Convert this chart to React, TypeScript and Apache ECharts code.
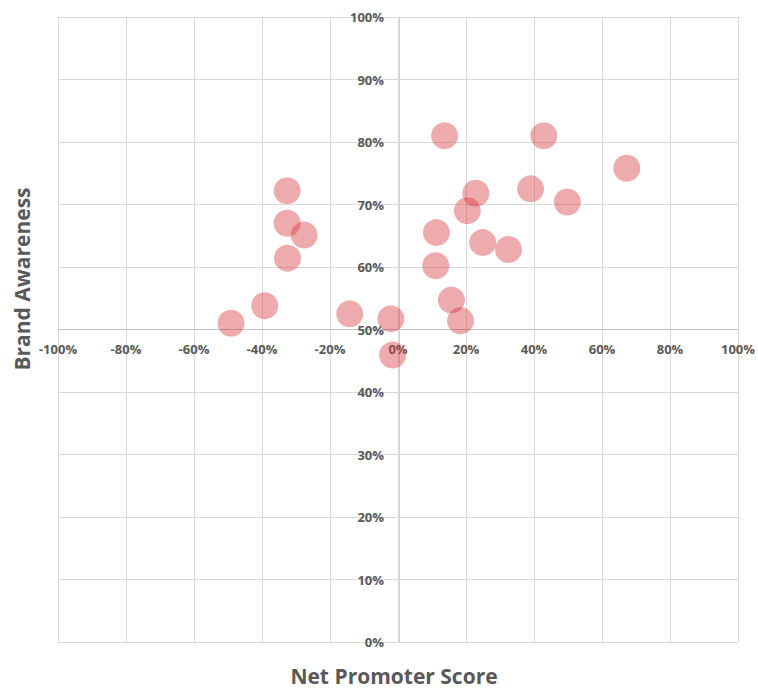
import React, { useEffect, useRef } from 'react';
import * as echarts from 'echarts';

// Net Promoter Score (%) and Brand Awareness (%) per brand
const npsValues = [-49.1, -39.2, -32.6, -32.6, -32.5, -27.6, -14.2, -2.1, -1.6, 13.7, 42.9, 67.3, 22.9, 39.0, 49.8, 20.4, 11.3, 24.9, 32.5, 11.1, 15.7, 18.4];
const awarenessValues = [51.0, 53.8, 72.2, 67.0, 61.4, 65.1, 52.5, 51.7, 45.9, 81.0, 81.0, 75.8, 71.8, 72.5, 70.4, 69.0, 65.5, 63.9, 62.8, 60.2, 54.7, 51.4];

const xTitle = 'Net Promoter Score';
const yTitle = 'Brand Awareness';

const GRID = { left: 58, right: 18, top: 17, bottom: 48 };
const W = 758;
const H = 690;
const plotH = H - GRID.top - GRID.bottom;
const plotW = W - GRID.left - GRID.right;

export default function App() {
  const ref = useRef<HTMLDivElement>(null);
  useEffect(() => {
    if (!ref.current) return;
    const chart = echarts.init(ref.current, undefined, { renderer: 'svg' });
    const data = npsValues.map((x, i) => [x, awarenessValues[i]]);
    const labelStyle = {
      color: '#595959',
      fontWeight: 'bold' as const,
      fontSize: 13,
      fontFamily: 'Open Sans',
      formatter: '{value}%',
    };
    chart.setOption({
      animation: false,
      backgroundColor: '#ffffff',
      grid: { ...GRID, containLabel: false },
      xAxis: {
        type: 'value',
        min: -100,
        max: 100,
        interval: 20,
        position: 'bottom',
        offset: -plotH / 2,
        axisLine: { show: true, onZero: false, lineStyle: { color: '#bfbfbf', width: 1 } },
        axisTick: { show: false },
        axisLabel: { ...labelStyle, margin: 13, showMinLabel: true, showMaxLabel: true },
        splitLine: { show: true, lineStyle: { color: '#d9d9d9', width: 1 } },
      },
      yAxis: {
        type: 'value',
        min: 0,
        max: 100,
        interval: 10,
        position: 'left',
        offset: -plotW / 2,
        axisLine: { show: true, onZero: false, lineStyle: { color: '#d4d4d4', width: 1 } },
        axisTick: { show: false },
        axisLabel: { ...labelStyle, margin: 15 },
        splitLine: { show: true, lineStyle: { color: '#d9d9d9', width: 1 } },
      },
      graphic: [
        {
          type: 'text',
          x: 394,
          y: 676,
          style: {
            text: xTitle,
            fill: '#595959',
            font: 'bold 21px "Open Sans"',
            textAlign: 'center',
            textVerticalAlign: 'middle',
          },
        },
        {
          type: 'text',
          x: 22,
          y: 279,
          rotation: Math.PI / 2,
          style: {
            text: yTitle,
            fill: '#595959',
            font: 'bold 21px "Open Sans"',
            textAlign: 'center',
            textVerticalAlign: 'middle',
          },
        },
      ],
      series: [
        {
          type: 'scatter',
          data,
          symbol: 'circle',
          symbolSize: 27,
          itemStyle: { color: 'rgba(213, 52, 57, 0.52)' },
          emphasis: { disabled: true },
        },
      ],
    });
    return () => chart.dispose();
  }, []);
  return (
    <div
      ref={ref}
      style={{ position: 'fixed', left: 0, top: 0, width: W, height: H }}
    />
  );
}
